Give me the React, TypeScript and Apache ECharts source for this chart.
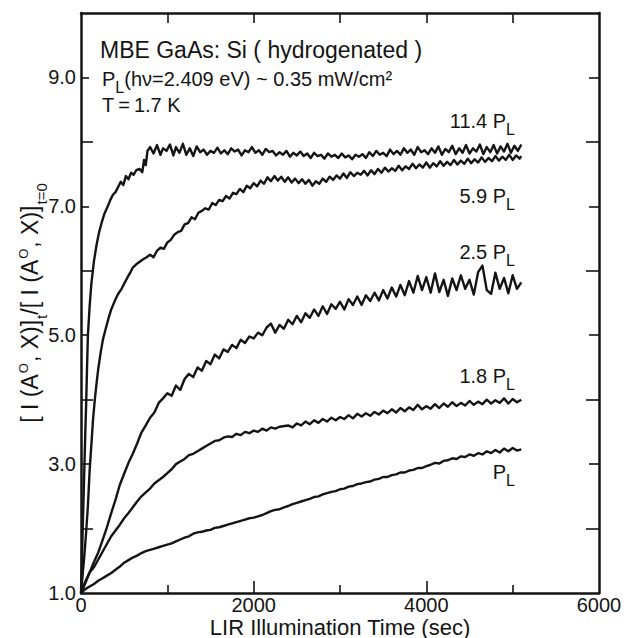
import { useEffect, useRef } from 'react';
import * as echarts from 'echarts';

const FONT = '"Liberation Sans", Arial, sans-serif';
const INK = '#141414';

// axis ticks / labels
const xLabelValues = [0, 2000, 4000, 6000];
const xShortTicks = [1000, 3000, 5000];
const xLongTicks = [2000, 4000];
const xTopTicks = [1000, 2000, 3000, 4000, 5000];
const yLabelValues = [1, 3, 5, 7, 9];
const yShortTicks = [3, 5, 7, 9];
const yLongTicks = [2, 4, 6, 8];

// curve labels (prefix before "P_L")
const curveLabels = ['11.4 ', '5.9 ', '2.5 ', '1.8 ', ''];

// 11.4 P_L
const curve114: [number, number][] = [
  [0, 1.0], [10, 1.5], [20, 2.0], [30, 2.5], [40, 3.0], [50, 3.5], [60, 3.95], [70, 4.5], [80, 5.0],
  [100, 5.45], [120, 5.8], [150, 6.15], [180, 6.4], [210, 6.6], [240, 6.75], [270, 6.88], [310, 7.0],
  [340, 7.1], [370, 7.18], [400, 7.22], [430, 7.3], [460, 7.38], [490, 7.33], [520, 7.47], [550, 7.42],
  [580, 7.52], [610, 7.49], [640, 7.56], [680, 7.58], [710, 7.53], [730, 7.72], [750, 7.64], [770, 7.86],
  [800, 7.92], [840, 7.82], [880, 7.95], [920, 7.8], [950, 7.9], [990, 7.86], [1030, 7.96], [1070, 7.79],
  [1100, 7.92], [1140, 7.83], [1180, 7.97], [1220, 7.8], [1260, 7.9], [1300, 7.78], [1340, 7.93], [1380, 7.84],
  [1420, 7.88], [1460, 7.8], [1500, 7.86], [1540, 7.83], [1580, 7.91], [1620, 7.82], [1660, 7.87], [1700, 7.81],
  [1740, 7.9], [1780, 7.85], [1820, 7.88], [1860, 7.79], [1900, 7.87], [1940, 7.84], [1980, 7.92], [2020, 7.83],
  [2060, 7.87], [2100, 7.8], [2140, 7.89], [2180, 7.84], [2220, 7.86], [2260, 7.79], [2300, 7.84], [2340, 7.8],
  [2380, 7.86], [2420, 7.77], [2460, 7.83], [2500, 7.79], [2540, 7.85], [2580, 7.78], [2620, 7.82], [2660, 7.75],
  [2700, 7.83], [2740, 7.78], [2780, 7.8], [2820, 7.74], [2860, 7.82], [2900, 7.77], [2940, 7.8], [2980, 7.75],
  [3020, 7.82], [3060, 7.76], [3100, 7.79], [3140, 7.73], [3180, 7.8], [3220, 7.77], [3260, 7.81], [3300, 7.75],
  [3340, 7.84], [3380, 7.78], [3420, 7.86], [3460, 7.8], [3500, 7.83], [3540, 7.78], [3580, 7.88], [3620, 7.81],
  [3660, 7.86], [3700, 7.8], [3740, 7.9], [3780, 7.83], [3820, 7.88], [3860, 7.8], [3900, 7.92], [3940, 7.84],
  [3980, 7.87], [4020, 7.81], [4060, 7.9], [4100, 7.83], [4140, 7.93], [4180, 7.8], [4220, 7.89], [4260, 7.84],
  [4300, 7.94], [4340, 7.81], [4380, 7.9], [4420, 7.83], [4460, 7.95], [4500, 7.82], [4540, 7.9], [4580, 7.85],
  [4620, 7.96], [4660, 7.81], [4700, 7.92], [4740, 7.84], [4780, 7.95], [4820, 7.82], [4860, 7.93], [4900, 7.85],
  [4940, 7.97], [4980, 7.83], [5020, 7.94], [5060, 7.86], [5100, 7.96],
];

// 5.9 P_L
const curve59: [number, number][] = [
  [0, 1.0], [20, 1.3], [40, 1.6], [60, 1.95], [80, 2.35], [100, 2.9], [120, 3.3], [140, 3.7], [160, 4.0],
  [180, 4.25], [200, 4.48], [230, 4.75], [255, 4.94], [290, 5.12], [320, 5.27], [350, 5.4], [400, 5.56],
  [430, 5.64], [470, 5.72], [500, 5.8], [540, 5.9], [570, 5.97], [600, 6.05], [640, 6.1], [680, 6.14],
  [720, 6.18], [760, 6.21], [800, 6.25], [840, 6.21], [880, 6.31], [920, 6.36], [960, 6.34], [1000, 6.44],
  [1040, 6.48], [1080, 6.56], [1120, 6.6], [1160, 6.62], [1200, 6.72], [1240, 6.74], [1280, 6.83], [1320, 6.8],
  [1360, 6.9], [1400, 6.93], [1440, 6.97], [1480, 6.95], [1520, 7.05], [1560, 7.02], [1600, 7.1], [1640, 7.08],
  [1680, 7.16], [1720, 7.12], [1760, 7.21], [1800, 7.19], [1840, 7.27], [1880, 7.22], [1920, 7.32], [1960, 7.28],
  [2000, 7.36], [2040, 7.31], [2080, 7.4], [2120, 7.35], [2160, 7.45], [2200, 7.39], [2240, 7.47], [2280, 7.4],
  [2320, 7.46], [2360, 7.38], [2400, 7.45], [2440, 7.37], [2480, 7.43], [2520, 7.36], [2560, 7.42], [2600, 7.35],
  [2640, 7.41], [2680, 7.32], [2720, 7.39], [2760, 7.35], [2800, 7.43], [2840, 7.38], [2880, 7.46], [2920, 7.41],
  [2960, 7.48], [3000, 7.43], [3040, 7.51], [3080, 7.44], [3120, 7.53], [3160, 7.47], [3200, 7.52], [3240, 7.49],
  [3280, 7.55], [3320, 7.48], [3360, 7.56], [3400, 7.5], [3440, 7.58], [3480, 7.52], [3520, 7.6], [3560, 7.54],
  [3600, 7.59], [3640, 7.55], [3680, 7.63], [3720, 7.56], [3760, 7.62], [3800, 7.58], [3840, 7.66], [3880, 7.59],
  [3920, 7.65], [3960, 7.6], [4000, 7.68], [4040, 7.6], [4080, 7.67], [4120, 7.62], [4160, 7.7], [4200, 7.63],
  [4240, 7.69], [4280, 7.64], [4320, 7.72], [4360, 7.65], [4400, 7.71], [4440, 7.66], [4480, 7.74], [4520, 7.67],
  [4560, 7.73], [4600, 7.68], [4640, 7.76], [4680, 7.69], [4720, 7.75], [4760, 7.7], [4800, 7.78], [4840, 7.71],
  [4880, 7.77], [4920, 7.72], [4960, 7.8], [5000, 7.72], [5040, 7.79], [5080, 7.74], [5100, 7.78],
];

// 2.5 P_L
const curve25: [number, number][] = [
  [0, 1.0], [50, 1.15], [100, 1.32], [150, 1.48], [200, 1.63], [250, 1.82], [300, 2.02], [350, 2.24],
  [400, 2.45], [450, 2.68], [500, 2.85], [550, 3.02], [600, 3.16], [650, 3.32], [700, 3.49], [750, 3.6],
  [800, 3.72], [850, 3.8], [900, 3.95], [950, 4.02], [1000, 4.1], [1050, 4.06], [1100, 4.22], [1150, 4.15],
  [1200, 4.32], [1250, 4.4], [1300, 4.35], [1350, 4.5], [1400, 4.45], [1450, 4.6], [1500, 4.55], [1550, 4.7],
  [1600, 4.64], [1650, 4.78], [1700, 4.74], [1750, 4.85], [1800, 4.8], [1850, 4.93], [1900, 4.88], [1950, 4.98],
  [2000, 4.95], [2050, 5.04], [2100, 5.0], [2150, 5.12], [2200, 5.18], [2250, 5.04], [2300, 5.16], [2350, 5.1],
  [2400, 5.24], [2450, 5.17], [2500, 5.3], [2550, 5.2], [2600, 5.34], [2650, 5.27], [2700, 5.4], [2750, 5.3],
  [2800, 5.45], [2850, 5.33], [2900, 5.48], [2950, 5.41], [3000, 5.52], [3050, 5.4], [3100, 5.56], [3150, 5.47],
  [3200, 5.6], [3250, 5.47], [3300, 5.62], [3350, 5.53], [3400, 5.66], [3450, 5.54], [3500, 5.7], [3550, 5.57],
  [3600, 5.74], [3650, 5.6], [3700, 5.78], [3750, 5.62], [3800, 5.84], [3850, 5.66], [3900, 5.92], [3950, 5.7],
  [4000, 5.9], [4050, 5.66], [4100, 5.96], [4150, 5.67], [4200, 5.86], [4250, 5.61], [4300, 5.88], [4350, 5.7],
  [4400, 5.93], [4450, 5.72], [4500, 5.86], [4550, 5.63], [4600, 5.98], [4650, 6.08], [4700, 5.7], [4750, 5.64],
  [4800, 5.97], [4850, 5.72], [4900, 5.89], [4950, 5.65], [5000, 5.93], [5050, 5.72], [5100, 5.82],
];

// 1.8 P_L
const curve18: [number, number][] = [
  [0, 1.0], [50, 1.18], [100, 1.32], [150, 1.4], [200, 1.52], [250, 1.64], [300, 1.76], [350, 1.88],
  [400, 1.97], [450, 2.06], [500, 2.16], [550, 2.24], [600, 2.33], [650, 2.42], [700, 2.5], [750, 2.56],
  [800, 2.62], [850, 2.7], [900, 2.75], [950, 2.8], [1000, 2.86], [1050, 2.92], [1100, 3.0], [1150, 3.04],
  [1200, 3.08], [1250, 3.14], [1300, 3.16], [1350, 3.2], [1400, 3.24], [1450, 3.28], [1500, 3.32], [1550, 3.36],
  [1600, 3.37], [1650, 3.41], [1700, 3.43], [1750, 3.42], [1800, 3.47], [1850, 3.45], [1900, 3.5], [1950, 3.48],
  [2000, 3.52], [2050, 3.5], [2100, 3.55], [2150, 3.52], [2200, 3.57], [2250, 3.55], [2300, 3.58], [2400, 3.6],
  [2450, 3.57], [2500, 3.63], [2550, 3.6], [2600, 3.66], [2650, 3.62], [2700, 3.68], [2750, 3.64], [2800, 3.7],
  [2850, 3.66], [2900, 3.72], [2950, 3.68], [3000, 3.73], [3050, 3.7], [3100, 3.76], [3150, 3.71], [3200, 3.78],
  [3250, 3.74], [3300, 3.79], [3350, 3.75], [3400, 3.81], [3450, 3.77], [3500, 3.83], [3550, 3.79], [3600, 3.85],
  [3650, 3.8], [3700, 3.87], [3750, 3.82], [3800, 3.88], [3850, 3.84], [3900, 3.92], [3950, 3.85], [4000, 3.9],
  [4050, 3.86], [4100, 3.93], [4150, 3.87], [4200, 3.94], [4250, 3.89], [4300, 3.96], [4350, 3.9], [4400, 3.95],
  [4450, 3.91], [4500, 3.98], [4550, 3.92], [4600, 3.97], [4650, 3.93], [4700, 4.0], [4750, 3.94], [4800, 3.99],
  [4850, 3.95], [4900, 4.02], [4950, 3.94], [5000, 4.01], [5050, 3.96], [5100, 4.0],
];

// P_L
const curve10: [number, number][] = [
  [0, 1.0], [50, 1.06], [100, 1.1], [150, 1.14], [200, 1.19], [250, 1.23], [300, 1.27], [350, 1.31],
  [400, 1.36], [450, 1.41], [500, 1.47], [550, 1.51], [600, 1.55], [650, 1.58], [700, 1.62], [750, 1.65],
  [800, 1.67], [850, 1.69], [900, 1.71], [950, 1.73], [1000, 1.75], [1050, 1.77], [1100, 1.8], [1150, 1.83],
  [1200, 1.86], [1250, 1.88], [1300, 1.92], [1350, 1.94], [1400, 1.95], [1450, 1.97], [1500, 1.98], [1550, 2.01],
  [1600, 2.02], [1650, 2.04], [1700, 2.06], [1750, 2.08], [1800, 2.1], [1850, 2.12], [1900, 2.14], [1950, 2.16],
  [2000, 2.17], [2050, 2.19], [2100, 2.21], [2150, 2.24], [2200, 2.27], [2250, 2.29], [2300, 2.3], [2350, 2.33],
  [2400, 2.35], [2450, 2.38], [2500, 2.4], [2550, 2.42], [2600, 2.44], [2650, 2.46], [2700, 2.49], [2750, 2.5],
  [2800, 2.53], [2850, 2.55], [2900, 2.57], [2950, 2.58], [3000, 2.61], [3050, 2.62], [3100, 2.65], [3150, 2.66],
  [3200, 2.69], [3250, 2.7], [3300, 2.72], [3350, 2.73], [3400, 2.76], [3450, 2.77], [3500, 2.8], [3550, 2.8],
  [3600, 2.83], [3650, 2.84], [3700, 2.87], [3750, 2.87], [3800, 2.9], [3850, 2.91], [3900, 2.94], [3950, 2.94],
  [4000, 2.97], [4050, 2.99], [4100, 3.02], [4150, 3.01], [4200, 3.05], [4250, 3.06], [4300, 3.09], [4350, 3.08],
  [4400, 3.12], [4450, 3.11], [4500, 3.15], [4550, 3.13], [4600, 3.17], [4650, 3.15], [4700, 3.2], [4750, 3.17],
  [4800, 3.22], [4850, 3.18], [4900, 3.24], [4950, 3.2], [5000, 3.25], [5050, 3.21], [5100, 3.23],
];

const allCurves = [curve114, curve59, curve25, curve18, curve10];
const labelY = [122, 197, 253, 377, 473];

export default function App() {
  const ref = useRef<HTMLDivElement>(null);
  useEffect(() => {
    if (!ref.current) return;
    const chart = echarts.init(ref.current, undefined, { renderer: 'svg' });

    const axisLine = { show: true, onZero: false, lineStyle: { color: INK, width: 2.5 } };
    const tickStyle = { color: INK, width: 1.6 };
    const base = { type: 'value' as const, splitLine: { show: false } };

    const xAxis = [
      {
        ...base, position: 'bottom', min: 0, max: 6000, interval: 1000,
        axisLine,
        axisTick: { show: true, inside: true, length: 8, lineStyle: tickStyle, customValues: xShortTicks },
        axisLabel: {
          show: true, customValues: xLabelValues, fontSize: 20, fontFamily: FONT, color: INK, margin: 2,
          formatter: (v: number) => String(v),
        },
      },
      {
        ...base, position: 'bottom', min: 0, max: 6000, interval: 1000,
        axisLine: { show: false, onZero: false },
        axisTick: { show: true, inside: true, length: 12, lineStyle: tickStyle, customValues: xLongTicks },
        axisLabel: { show: false },
      },
      {
        ...base, position: 'top', min: 0, max: 6000, interval: 1000,
        axisLine,
        axisTick: { show: true, inside: true, length: 10, lineStyle: tickStyle, customValues: xTopTicks },
        axisLabel: { show: false },
      },
    ];

    const yAxis = [
      {
        ...base, position: 'left', min: 1, max: 10, interval: 1,
        axisLine,
        axisTick: { show: true, inside: true, length: 8, lineStyle: tickStyle, customValues: yShortTicks },
        axisLabel: {
          show: true, customValues: yLabelValues, fontSize: 20, fontFamily: FONT, color: INK, margin: 5,
          formatter: (v: number) => v.toFixed(1),
        },
      },
      {
        ...base, position: 'left', min: 1, max: 10, interval: 1,
        axisLine: { show: false, onZero: false },
        axisTick: { show: true, inside: true, length: 12, lineStyle: tickStyle, customValues: yLongTicks },
        axisLabel: { show: false },
      },
      {
        ...base, position: 'right', min: 1, max: 10, interval: 1,
        axisLine,
        axisTick: { show: true, inside: true, length: 10, lineStyle: tickStyle, customValues: yShortTicks },
        axisLabel: { show: false },
      },
      {
        ...base, position: 'right', min: 1, max: 10, interval: 1,
        axisLine: { show: false, onZero: false },
        axisTick: { show: true, inside: true, length: 13, lineStyle: tickStyle, customValues: yLongTicks },
        axisLabel: { show: false },
      },
    ];

    const series = allCurves.map((d) => ({
      type: 'line' as const,
      data: d,
      xAxisIndex: 0,
      yAxisIndex: 0,
      showSymbol: false,
      symbol: 'none',
      lineStyle: { color: INK, width: 2.4, join: 'round' },
      silent: true,
    }));

    const txt = (x: number, y: number, text: string, size: number, extra: any = {}) => ({
      type: 'text', x, y, silent: true,
      style: { text, fontSize: size, fontFamily: FONT, fill: INK, verticalAlign: 'middle', ...extra },
    });

    // text with "P" + subscript "L" in one rich element; y is centre of main text
    const plRich = (size: number) => ({
      a: { fontSize: size, fontFamily: FONT, fill: INK, lineHeight: size + 2, verticalAlign: 'top' },
      s: { fontSize: size - 4, fontFamily: FONT, fill: INK, lineHeight: size - 4, verticalAlign: 'top', padding: [10, 0, 0, 0] },
    });
    const plText = (x: number, y: number, text: string, size: number, align: string) => ({
      type: 'text', x, y: y - (size + 2) / 2, silent: true,
      style: { text, align, verticalAlign: 'top', fontSize: size, fontFamily: FONT, fill: INK, rich: plRich(size) },
    });

    const labelEls = curveLabels.map((p, i) => plText(515, labelY[i], `{a|${p}P}{s|L}`, 20, 'right'));

    const graphic = [
      txt(100, 50, 'MBE GaAs: Si ( hydrogenated )', 23),
      plText(102, 80, '{a|P}{s|L}{a|(hν=2.409 eV) ~ 0.35 mW/cm²}', 20, 'left'),
      txt(102, 105, 'T\u2009=\u20091.7 K', 20),
      ...labelEls,
      {
        type: 'text', x: 30, y: 303, rotation: Math.PI / 2, silent: true,
        style: {
          text: '{m|[ I (A}{p|O}{m|, X)]}{s|t}{m|/[ I (A}{p|O}{m|, X)]}{s|t=0}',
          align: 'center', verticalAlign: 'middle', fill: INK, fontFamily: FONT, fontSize: 23,
          rich: {
            m: { fontSize: 23, fontFamily: FONT, fill: INK, lineHeight: 30, verticalAlign: 'middle' },
            p: { fontSize: 13, fontFamily: FONT, fill: INK, lineHeight: 13, verticalAlign: 'top', padding: [2, 1, 0, 1] },
            s: { fontSize: 15, fontFamily: FONT, fill: INK, lineHeight: 15, verticalAlign: 'top', padding: [19, 0, 0, 1] },
          },
        },
      },
      txt(340, 627, 'LIR Illumination Time (sec)', 22, { align: 'center' }),
    ];

    chart.setOption({
      animation: false,
      backgroundColor: '#ffffff',
      grid: { left: 81, right: 29, top: 13, bottom: 45, containLabel: false },
      xAxis,
      yAxis,
      series,
      graphic,
    } as any);

    return () => chart.dispose();
  }, []);

  return (
    <div
      ref={ref}
      style={{ position: 'fixed', left: 0, top: 0, width: 628, height: 638, background: '#fff' }}
    />
  );
}
